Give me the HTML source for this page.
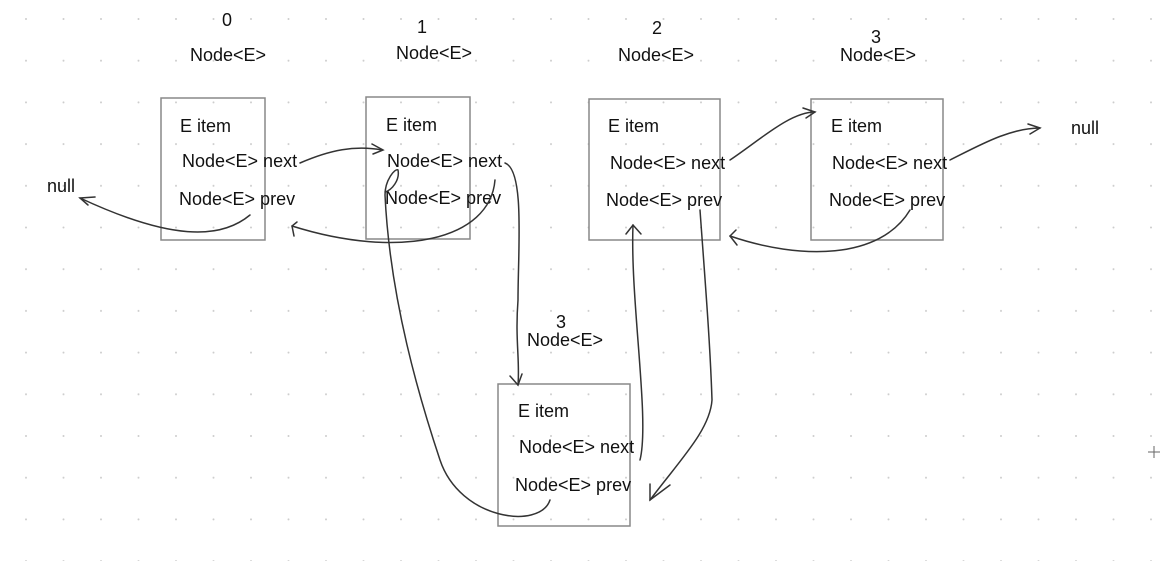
<!DOCTYPE html>
<html><head><meta charset="utf-8"><style>
html,body{margin:0;padding:0;background:#fff;}
body{width:1174px;height:561px;position:relative;overflow:hidden;font-family:"Liberation Sans",sans-serif;}
svg{position:absolute;left:0;top:0;}
text{font-family:"Liberation Sans",sans-serif;font-size:18px;fill:#111;}
</style></head><body>
<svg width="1174" height="561" viewBox="0 0 1174 561">
<defs>
<pattern id="g" x="25" y="18" width="37.5" height="41.7" patternUnits="userSpaceOnUse">
<circle cx="1" cy="1" r="1" fill="#ccc"/>
</pattern>
</defs>
<rect width="1174" height="561" fill="url(#g)"/>
<g fill="none" stroke="#888" stroke-width="1.5">
<rect x="161" y="98" width="104" height="142"/>
<rect x="366" y="97" width="104" height="142"/>
<rect x="589" y="99" width="131" height="141"/>
<rect x="811" y="99" width="132" height="141"/>
<rect x="498" y="384" width="132" height="142"/>
</g>
<text x="222" y="26">0</text>
<text x="190" y="61">Node&lt;E&gt;</text>
<text x="417" y="33">1</text>
<text x="396" y="59">Node&lt;E&gt;</text>
<text x="652" y="34">2</text>
<text x="618" y="61">Node&lt;E&gt;</text>
<text x="871" y="43">3</text>
<text x="840" y="61">Node&lt;E&gt;</text>
<text x="556" y="328">3</text>
<text x="527" y="346">Node&lt;E&gt;</text>
<text x="47" y="192">null</text>
<text x="1071" y="134">null</text>
<g>
<text x="180" y="132">E item</text>
<text x="182" y="167">Node&lt;E&gt; next</text>
<text x="179" y="205">Node&lt;E&gt; prev</text>
<text x="386" y="131">E item</text>
<text x="387" y="167">Node&lt;E&gt; next</text>
<text x="385" y="204">Node&lt;E&gt; prev</text>
<text x="608" y="132">E item</text>
<text x="610" y="169">Node&lt;E&gt; next</text>
<text x="606" y="206">Node&lt;E&gt; prev</text>
<text x="831" y="132">E item</text>
<text x="832" y="169">Node&lt;E&gt; next</text>
<text x="829" y="206">Node&lt;E&gt; prev</text>
<text x="518" y="417">E item</text>
<text x="519" y="453">Node&lt;E&gt; next</text>
<text x="515" y="491">Node&lt;E&gt; prev</text>
</g>
<g fill="none" stroke="#333" stroke-width="1.5" stroke-linecap="round">
<path d="M250 215 C220 240 170 240 80 198"/><path d="M95 197 L80 198 L88 205"/>
<path d="M300 163 C330 150 355 145 382 150"/><path d="M372 144 L383 150 L373 154"/>
<path d="M495 180 C490 240 400 260 292 226"/><path d="M297 222 L292 226 L294 236"/>
<path d="M505 163 C525 170 518 250 518 300 C515 340 520 360 518 385"/><path d="M510 376 L518 385 L522 374"/>
<path d="M550 500 C540 530 460 520 440 460 C420 400 390 300 385 195 C385 180 395 168 398 170 C400 180 392 190 385 192"/>
<path d="M640 460 C650 420 630 300 633 225"/><path d="M626 234 L633 225 L641 234"/>
<path d="M700 210 C705 280 710 340 712 400 C710 430 680 460 650 500"/><path d="M650 484 L650 500 L670 485"/>
<path d="M730 160 C760 140 790 112 815 112"/><path d="M803 108 L815 112 L806 118"/>
<path d="M910 210 C880 260 800 260 730 236"/><path d="M736 230 L730 236 L737 245"/>
<path d="M950 160 C980 145 1010 128 1040 128"/><path d="M1028 124 L1040 128 L1030 134"/>
</g>
<g stroke="#666" stroke-width="1"><path d="M1148 452 H1160 M1154 446 V458"/></g>
</svg>
</body></html>
